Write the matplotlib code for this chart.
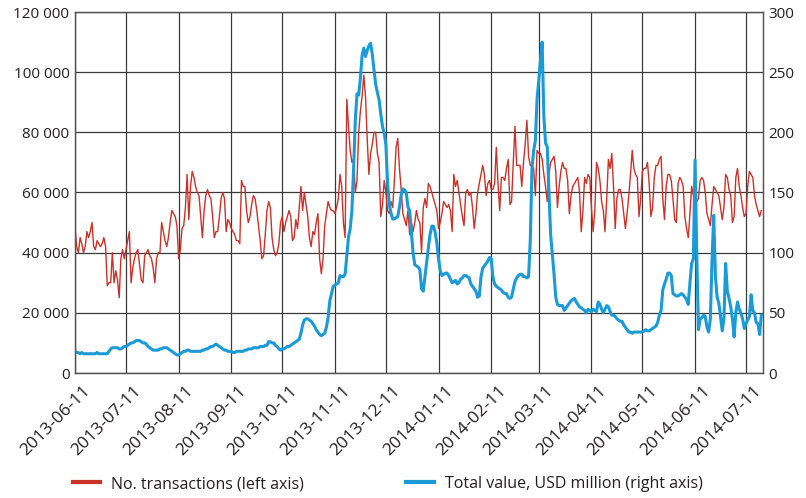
import pandas as pd
import matplotlib
matplotlib.use('Agg')
import matplotlib.pyplot as plt
import matplotlib.dates as mdates
import matplotlib.transforms as mtransforms
from matplotlib.ticker import FuncFormatter, MultipleLocator

plt.rcParams['font.family'] = ['Open Sans', 'DejaVu Sans']

# daily series starting 2013-06-11
start_date = '2013-06-11'

# No. transactions, thousands (left axis)
transactions_k = [
    48, 42, 40, 45, 43, 40, 42, 47, 45, 47,
    50, 42, 41, 44, 43, 42, 43, 45, 42, 29,
    30, 30, 40, 30, 34, 31, 25, 38, 41, 38,
    41, 44, 47, 30, 35, 38, 40, 41, 36, 31,
    30, 39, 40, 41, 39, 38, 35, 30, 38, 40,
    40, 50, 47, 44, 42, 45, 50, 54, 53, 52,
    49, 38, 41, 48, 49, 55, 66, 51, 62, 67,
    65, 62, 60, 59, 52, 45, 54, 59, 61, 59,
    58, 52, 45, 47, 47, 52, 58, 60, 58, 47,
    51, 50, 48, 47, 46, 44, 44, 43, 64, 62,
    62, 54, 50, 52, 56, 59, 58, 54, 49, 44,
    38, 39, 46, 54, 57, 55, 45, 41, 39, 40,
    43, 50, 52, 47, 50, 52, 54, 52, 44, 45,
    51, 48, 55, 62, 54, 60, 56, 52, 45, 42,
    47, 46, 50, 53, 38, 33, 38, 49, 53, 57,
    55, 54, 54, 53, 55, 58, 66, 62, 50, 45,
    91, 82, 74, 70, 71, 60, 64, 80, 87, 92,
    99, 92, 78, 66, 73, 76, 80, 80, 73, 70,
    52, 56, 64, 60, 54, 53, 57, 55, 64, 75,
    78, 68, 61, 53, 51, 49, 54, 46, 50, 47,
    50, 54, 51, 50, 40, 55, 58, 55, 63, 62,
    60, 58, 56, 54, 48, 50, 53, 57, 56, 55,
    56, 54, 47, 66, 62, 64, 60, 56, 52, 49,
    60, 61, 59, 60, 55, 48, 53, 60, 63, 66,
    69, 66, 59, 63, 64, 61, 61, 63, 75, 63,
    54, 65, 65, 64, 68, 71, 56, 57, 70, 82,
    69, 69, 69, 62, 70, 76, 84, 72, 69, 69,
    68, 59, 74, 73, 73, 71, 66, 62, 57, 66,
    70, 71, 72, 67, 55, 62, 67, 70, 68, 68,
    64, 53, 59, 62, 63, 64, 65, 60, 47, 54,
    65, 63, 66, 65, 55, 47, 54, 70, 68, 64,
    57, 54, 47, 58, 71, 68, 73, 62, 48, 58,
    61, 61, 58, 53, 48, 53, 59, 66, 74, 68,
    66, 65, 52, 58, 67, 68, 68, 70, 63, 52,
    55, 65, 69, 69, 71, 72, 58, 51, 62, 66,
    66, 64, 58, 51, 50, 63, 65, 64, 62, 52,
    48, 45, 53, 62, 59, 60, 57, 58, 64, 65,
    64, 60, 53, 51, 49, 56, 62, 61, 60, 59,
    55, 51, 55, 66, 65, 61, 59, 50, 52, 65,
    68, 62, 59, 55, 52, 53, 62, 67, 66, 65,
    59, 56, 54, 52, 54,
]

# Total value, USD million (right axis)
value_usd_m = [
    18, 17, 17, 16, 17, 16, 16, 16, 16, 16,
    16, 16, 16, 17, 16, 16, 16, 16, 16, 16,
    18, 20, 21, 21, 21, 21, 20, 20, 21, 22,
    22, 23, 24, 25, 25, 26, 27, 27, 27, 26,
    25, 25, 24, 22, 21, 20, 19, 19, 19, 19,
    20, 20, 21, 21, 21, 20, 19, 18, 17, 16,
    15, 15, 16, 17, 18, 18, 19, 19, 18, 18,
    18, 18, 18, 18, 18, 19, 19, 20, 20, 21,
    22, 22, 23, 24, 23, 22, 21, 20, 19, 19,
    18, 18, 18, 17, 17, 18, 18, 18, 18, 18,
    19, 19, 20, 20, 20, 21, 21, 21, 21, 22,
    22, 22, 23, 23, 26, 26, 25, 25, 23, 22,
    20, 19, 20, 20, 21, 22, 22, 23, 24, 25,
    26, 27, 28, 33, 40, 44, 45, 45, 44, 43,
    41, 39, 36, 34, 32, 31, 32, 33, 38, 46,
    60, 66, 72, 73, 74, 75, 81, 80, 80, 82,
    98, 113, 120, 135, 170, 210, 232, 231, 245, 264,
    270, 263, 268, 272, 274, 265, 252, 240, 233, 227,
    215, 205, 199, 190, 158, 140, 133, 128, 128, 129,
    130, 138, 148, 153, 152, 150, 138, 135, 118, 100,
    90, 89, 88, 86, 70, 68, 80, 92, 104, 115,
    122, 122, 117, 108, 95, 85, 81, 82, 83, 83,
    81, 78, 75, 76, 77, 74, 75, 78, 79, 81,
    81, 80, 79, 74, 72, 70, 68, 63, 64, 80,
    87, 89, 91, 93, 96, 95, 80, 74, 72, 71,
    70, 69, 67, 66, 66, 63, 62, 63, 70, 76,
    79, 81, 82, 82, 80, 80, 79, 80, 110, 170,
    185, 193, 228, 243, 260, 275, 213, 191, 188, 150,
    115, 99, 82, 63, 57, 56, 56, 56, 52, 54,
    56, 58, 60, 61, 62, 59, 57, 55, 54, 53,
    52, 50, 53, 52, 51, 53, 52, 51, 59, 57,
    53, 50, 53, 56, 55, 51, 48, 48, 47, 45,
    44, 43, 43, 40, 38, 36, 34, 34, 33, 34,
    34, 34, 34, 34, 34, 35, 36, 35, 35, 36,
    37, 38, 39, 42, 48, 52, 69, 74, 78, 83,
    83, 81, 66, 65, 64, 64, 65, 66, 65, 63,
    61, 57, 75, 91, 95, 177, 100, 36, 45, 46,
    48, 47, 38, 34, 45, 94, 131, 80, 63, 58,
    47, 35, 45, 91, 68, 62, 55, 45, 30, 50,
    59, 53, 50, 45, 37, 41, 44, 47, 65, 52,
    50, 42, 41, 32, 48,
]

dates = pd.date_range(start_date, periods=len(transactions_k), freq='D')
transactions = [v * 1000 for v in transactions_k]

red = '#c8322b'
blue = '#1a9ad6'
grid_col = '#3a3a3a'
text_col = '#231f20'

fig = plt.figure(figsize=(8.06, 4.98), dpi=100)
ax = fig.add_axes([75 / 806, 1 - 373 / 498, 688 / 806, 361 / 498])
ax2 = ax.twinx()

ax.plot(dates, transactions, color=red, lw=1.0, label='No. transactions (left axis)')
ax2.plot(dates, value_usd_m, color=blue, lw=2.2, label='Total value, USD million (right axis)')

ax.set_ylim(0, 120000)
ax2.set_ylim(0, 300)
ax.set_xlim(pd.Timestamp('2013-06-11'), pd.Timestamp('2014-07-21'))

ax.yaxis.set_major_locator(MultipleLocator(20000))
ax.yaxis.set_major_formatter(FuncFormatter(lambda v, p: f'{int(v):,}'.replace(',', ' ')))
ax2.yaxis.set_major_locator(MultipleLocator(50))

ax.xaxis.set_major_locator(mdates.MonthLocator(bymonthday=11))
ax.xaxis.set_major_formatter(mdates.DateFormatter('%Y-%m-%d'))

ax.grid(True, color=grid_col, lw=0.9)
ax.set_axisbelow(True)

for a in (ax, ax2):
    a.tick_params(length=0, labelsize=11, colors=text_col, pad=4)
    for s in a.spines.values():
        s.set_color('#555555')
        s.set_linewidth(0.9)

# rotated date labels, nudged so the end sits just right of the tick
shift = mtransforms.ScaledTranslation(5 / 72, -3 / 72, fig.dpi_scale_trans)
for lbl in ax.get_xticklabels():
    lbl.set_rotation(45)
    lbl.set_ha('right')
    lbl.set_rotation_mode('anchor')
    lbl.set_fontsize(12.5)
    lbl.set_transform(lbl.get_transform() + shift)

h1, l1 = ax.get_legend_handles_labels()
h2, l2 = ax2.get_legend_handles_labels()
leg = fig.legend(h1 + h2, l1 + l2, loc='center left', bbox_to_anchor=(73 / 806, 1 - 484 / 498),
                 ncol=2, frameon=False, fontsize=11.5, handlelength=1.7, handletextpad=0.7,
                 columnspacing=6.4, borderpad=0, borderaxespad=0, labelcolor=text_col)
for line in leg.get_lines():
    line.set_linewidth(3)

fig.savefig('out.png', dpi=100)
